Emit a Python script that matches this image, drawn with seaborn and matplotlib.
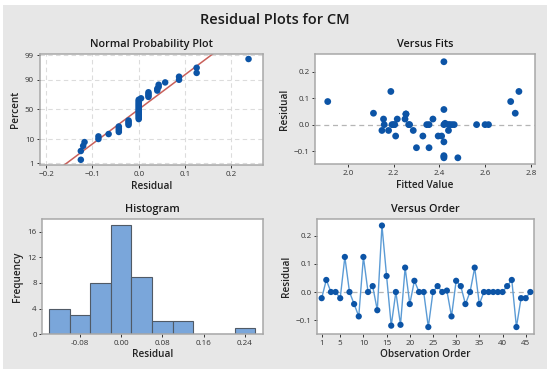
import numpy as np
import pandas as pd
import seaborn as sns
import matplotlib
matplotlib.use("Agg")
import matplotlib.pyplot as plt
from matplotlib.patches import Rectangle
from statistics import NormalDist

residuals = [-0.022, 0.043, 0.0, 0.0, -0.022, 0.125, 0.0, -0.043, -0.087, 0.125,
             0.0, 0.021, -0.065, 0.237, 0.057, -0.120, 0.0, -0.117, 0.087, -0.043,
             0.040, 0.0, 0.0, -0.125, 0.0, 0.021, 0.0, 0.005, -0.087, 0.040,
             0.021, -0.043, 0.0, 0.087, -0.043, 0.0, 0.0, 0.0, 0.0, 0.0,
             0.021, 0.043, -0.125, -0.022, -0.022, 0.0]

fitted = [2.149, 2.112, 2.159, 2.193, 2.178, 2.188, 2.200, 2.209, 2.300, 2.748,
          2.205, 2.156, 2.420, 2.420, 2.420, 2.420, 2.266, 2.420, 1.912, 2.328,
          2.254, 2.270, 2.345, 2.481, 2.355, 2.216, 2.420, 2.425, 2.355, 2.254,
          2.250, 2.395, 2.440, 2.712, 2.410, 2.445, 2.455, 2.465, 2.563, 2.600,
          2.372, 2.732, 2.420, 2.286, 2.440, 2.615]

prob_ticks = [1, 10, 50, 90, 99]
hist_edges = [-0.14, -0.10, -0.06, -0.02, 0.02, 0.06, 0.10, 0.14, 0.18, 0.22, 0.26]
hist_ticks = [-0.08, 0.00, 0.08, 0.16, 0.24]
order_ticks = [1, 5, 10, 15, 20, 25, 30, 35, 40, 45]

df = pd.DataFrame({"order": np.arange(1, len(residuals) + 1),
                   "resid": residuals, "fit": fitted})

sns.set_style("white")
plt.rcParams["font.family"] = ["Open Sans", "DejaVu Sans"]

nd = NormalDist()
n = len(residuals)
df_p = pd.DataFrame({"resid": np.sort(residuals)})
df_p["z"] = [nd.inv_cdf((i + 1 - 0.3) / (n + 0.4)) for i in range(n)]
mu, sd = np.mean(residuals), np.std(residuals, ddof=1)
zl = np.array([-2.6, 2.6])
df_line = pd.DataFrame({"x": mu + sd * zl, "z": zl})

blue = "#0c54a6"
fig = plt.figure(figsize=(5.5, 3.72), dpi=100, facecolor="white")
fig.patches.append(Rectangle((0.006, 0.008), 0.988, 0.978, transform=fig.transFigure,
                             facecolor="#e7e7e7", edgecolor="none", zorder=-10))
fig.text(0.5, 0.945, "Residual Plots for CM", ha="center", va="center",
         fontsize=10.5, fontweight="semibold", color="#1a1a1a")

ax1 = fig.add_axes([0.072, 0.556, 0.406, 0.298])
ax2 = fig.add_axes([0.573, 0.558, 0.400, 0.296])
ax3 = fig.add_axes([0.077, 0.102, 0.401, 0.309])
ax4 = fig.add_axes([0.577, 0.102, 0.394, 0.309])

def style(ax, title, xlabel, ylabel):
    ax.set_facecolor("white")
    for s in ax.spines.values():
        s.set_color("#a8a8a8")
        s.set_linewidth(1.1)
    ax.set_title(title, fontsize=7.8, fontweight="semibold", color="#1a1a1a", pad=5)
    ax.set_xlabel(xlabel, fontsize=7.2, fontweight="semibold", color="#222222", labelpad=2)
    ax.set_ylabel(ylabel, fontsize=7.2, fontweight="semibold", color="#222222", labelpad=3)
    ax.tick_params(labelsize=5.8, colors="#333333", length=2.5, width=0.7, pad=1.5,
                   bottom=True, left=True)

# Normal probability plot
sns.lineplot(data=df_line, x="x", y="z", color="#c9605a", lw=1.1, ax=ax1)
sns.scatterplot(data=df_p, x="resid", y="z", color=blue, s=22, edgecolor="none", ax=ax1, zorder=3)
ax1.set_xlim(-0.214, 0.268)
ax1.set_ylim(-2.40, 2.37)
ax1.set_xticks([-0.2, -0.1, 0.0, 0.1, 0.2])
ax1.set_yticks([nd.inv_cdf(p / 100) for p in prob_ticks])
ax1.set_yticklabels([str(p) for p in prob_ticks])
ax1.grid(True, ls=(0, (4, 3)), color="#dcdcdc", lw=0.8)
ax1.set_axisbelow(True)
style(ax1, "Normal Probability Plot", "Residual", "Percent")

# Versus fits
ax2.axhline(0, color="#b5b5b5", ls=(0, (4, 3)), lw=0.9)
sns.scatterplot(data=df, x="fit", y="resid", color=blue, s=24, edgecolor="none", ax=ax2, zorder=3)
ax2.set_xlim(1.857, 2.819)
ax2.set_ylim(-0.15, 0.265)
ax2.set_xticks([2.0, 2.2, 2.4, 2.6, 2.8])
ax2.set_yticks([-0.1, 0.0, 0.1, 0.2])
style(ax2, "Versus Fits", "Fitted Value", "Residual")

# Histogram
sns.histplot(df, x="resid", bins=hist_edges, color="#7aa6da", edgecolor="#505a66",
             linewidth=0.8, alpha=1, ax=ax3)
ax3.set_xlim(-0.153, 0.275)
ax3.set_ylim(0, 18)
ax3.set_xticks(hist_ticks)
ax3.set_xticklabels(["-0.08", "0.00", "0.08", "0.16", "0.24"])
ax3.set_yticks([0, 4, 8, 12, 16])
style(ax3, "Histogram", "Residual", "Frequency")

# Versus order
ax4.axhline(0, color="#b5b5b5", ls=(0, (4, 3)), lw=0.9)
sns.lineplot(data=df, x="order", y="resid", color="#5b9bd5", lw=1.0, ax=ax4)
sns.scatterplot(data=df, x="order", y="resid", color=blue, s=20, edgecolor="none", ax=ax4, zorder=3)
ax4.set_xlim(0.07, 46.8)
ax4.set_ylim(-0.15, 0.26)
ax4.set_xticks(order_ticks)
ax4.set_yticks([-0.1, 0.0, 0.1, 0.2])
style(ax4, "Versus Order", "Observation Order", "Residual")

fig.savefig("out.png", dpi=100, facecolor=fig.get_facecolor())
